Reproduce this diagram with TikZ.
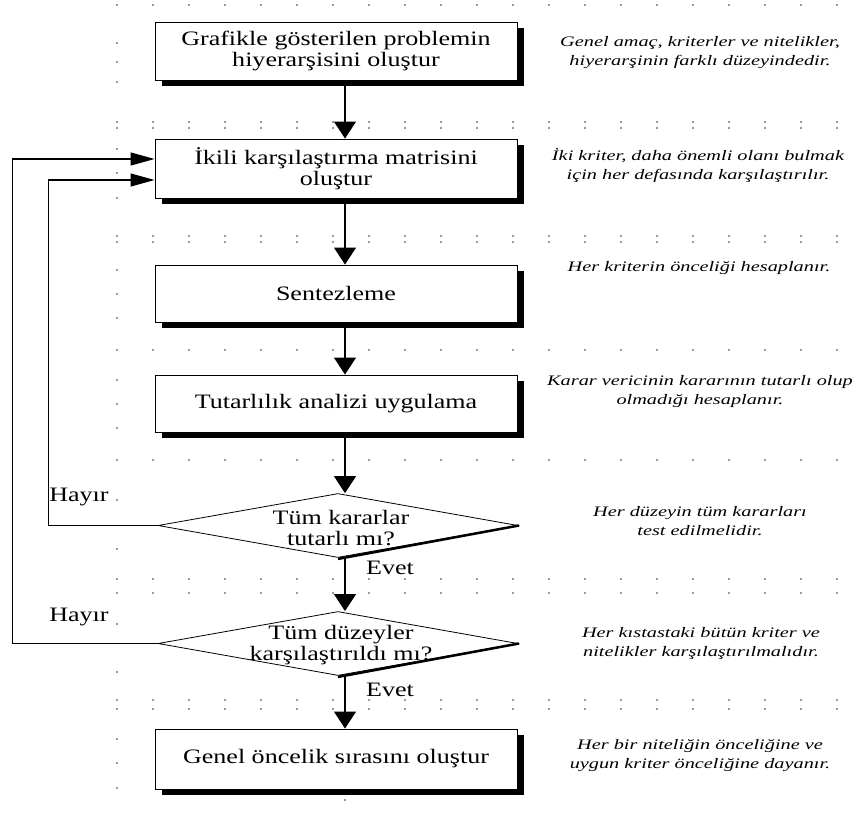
\documentclass[tikz,border=0pt]{standalone}
\usepackage{fontspec}
\setmainfont{Liberation Serif}
\newfontfamily\boxfont{Liberation Serif}[FakeStretch=1.27]
\newfontfamily\notefont{Liberation Serif}[FakeStretch=1.4]
\usetikzlibrary{arrows.meta,shapes.geometric,shadows}

\begin{document}
\begin{tikzpicture}[x=1pt,y=-1pt,
  gdot/.style={fill=black!80},
  stepbox/.style={draw, line width=0.9pt, fill=white, minimum width=362pt,
    minimum height=58pt, inner sep=0pt, align=center,
    font=\boxfont\fontsize{20.5}{21.5}\selectfont,
    drop shadow={shadow xshift=7pt, shadow yshift=-6pt, opacity=1, fill=black}},
  decision/.style={diamond, draw, line width=0.8pt, fill=white,
    minimum width=360pt, minimum height=64pt, inner sep=0pt},
  dtext/.style={align=center, inner sep=0pt, font=\boxfont\fontsize{20.5}{21}\selectfont},
  lbl/.style={inner sep=0pt, font=\boxfont\fontsize{20.5}{21}\selectfont},
  note/.style={align=center, inner sep=0pt, font=\notefont\itshape\fontsize{14.5}{19}\selectfont},
  flow/.style={line width=1.2pt, -{Triangle[length=17pt,width=22pt]}},
  back/.style={line width=1.2pt, -{Triangle[length=24pt,width=13pt]}},
  rim/.style={line width=2.5pt}
]
\useasboundingbox (0,0) rectangle (866,816);

% dotted drawing grid
\foreach \y in {5,122,128,236,242,350,460,579,593,700,709}
  \foreach \k in {0,...,20}
    \fill[gdot] (117+36*\k,\y) circle (0.8);
\foreach \y in {43,62,82,149,173,198,270,294,318,380,404,428,500,549,624,672,739,763,788}
  \fill[gdot] (117,\y) circle (0.8);
\fill[gdot] (345,800) circle (0.8);

\coordinate (axis) at (345,0);

% process steps
\node[stepbox] (b1) at (336,51) {Grafikle gösterilen problemin\\hiyerarşisini oluştur};
\node[stepbox, minimum height=59pt] (b2) at (336,168.5) {İkili karşılaştırma matrisini\\oluştur};
\node[stepbox, minimum height=57pt] (b3) at (336,293.5) {Sentezleme};
\node[stepbox, minimum height=57pt] (b4) at (336,403.5) {Tutarlılık analizi uygulama};
\node[decision] (d1) at (338,525.5) {};
\node[decision] (d2) at (338,643.5) {};
\node[stepbox, minimum height=60pt] (b5) at (336,759) {Genel öncelik sırasını oluştur};

\draw[rim] ([yshift=-1pt]d1.south) -- ([xshift=0.5pt]d1.east);
\draw[rim] ([yshift=-1pt]d2.south) -- ([xshift=0.5pt]d2.east);

\node[dtext] (t1) at ([xshift=3pt,yshift=-2.5pt]d1) {Tüm kararlar\\tutarlı mı?};
\node[dtext] (t2) at ([xshift=3pt,yshift=-2pt]d2) {Tüm düzeyler\\karşılaştırıldı mı?};

% main flow
\draw[flow] (b1.south -| axis) -- (b2.north -| axis);
\draw[flow] (b2.south -| axis) -- (b3.north -| axis);
\draw[flow] (b3.south -| axis) -- (b4.north -| axis);
\draw[flow] (b4.south -| axis) -- (d1.north -| axis);
\draw[flow] (d1.south -| axis) -- (d2.north -| axis);
\draw[flow] (d2.south -| axis) -- (b5.north -| axis);

% feedback loops
\draw[back] (d1.west) -- ++(-109,0) |- ([yshift=-11.5pt]b2.west);
\draw[back] (d2.west) -- ++(-145,0) |- ([yshift=9.5pt]b2.west);

\node[lbl] (h1) at (79,497) {Hayır};
\node[lbl] (h2) at (79,617) {Hayır};
\node[lbl] (e1) at (390,568) {Evet};
\node[lbl] (e2) at (390,690) {Evet};

% explanatory notes
\node[note] (n1) at (700,53) {Genel amaç, kriterler ve nitelikler,\\hiyerarşinin farklı düzeyindedir.};
\node[note] (n2) at (698,166) {İki kriter, daha önemli olanı bulmak\\için her defasında karşılaştırılır.};
\node[note] (n3) at (699,268) {Her kriterin önceliği hesaplanır.};
\node[note] (n4) at (700,392) {Karar vericinin kararının tutarlı olup\\olmadığı hesaplanır.};
\node[note] (n5) at (700,521) {Her düzeyin tüm kararları\\test edilmelidir.};
\node[note] (n6) at (701,643) {Her kıstastaki bütün kriter ve\\nitelikler karşılaştırılmalıdır.};
\node[note] (n7) at (700,756) {Her bir niteliğin önceliğine ve\\uygun kriter önceliğine dayanır.};
\end{tikzpicture}
\end{document}
